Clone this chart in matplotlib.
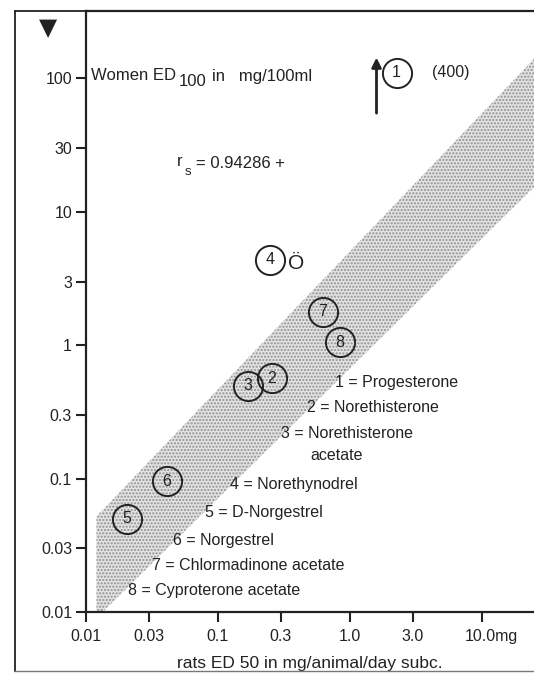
import numpy as np
import matplotlib.pyplot as plt
from matplotlib.lines import Line2D
from matplotlib.transforms import offset_copy, ScaledTranslation

plt.rcParams['font.family'] = ['Liberation Sans', 'DejaVu Sans']
plt.rcParams['hatch.linewidth'] = 1.0

W, H = 534, 676
INK = '#222222'

# data
labels = ['1', '2', '3', '4', '5', '6', '7', '8']
rat_ed50 = [2.27, 0.258, 0.170, 0.248, 0.0205, 0.0408, 0.627, 0.843]
women_ed100 = [400, 0.564, 0.495, 4.38, 0.0498, 0.0957, 1.78, 1.05]
names = ['Progesterone', 'Norethisterone', 'Norethisterone', 'Norethynodrel',
         'D-Norgestrel', 'Norgestrel', 'Chlormadinone acetate',
         'Cyproterone acetate']

band_x = [0.012, 25]
band_low = [0.009, 15.3]
band_high = [0.052, 140]

xticks = [0.01, 0.03, 0.1, 0.3, 1, 3, 10]
xlabels = ['0.01', '0.03', '0.1', '0.3', '1.0', '3.0', '10.0mg']
yticks = [0.01, 0.03, 0.1, 0.3, 1, 3, 10, 30, 100]
ylabels = ['0.01', '0.03', '0.1', '0.3', '1', '3', '10', '30', '100']

y_cap = 110  # off-scale values shown at the top with an arrow

# legend text layout (left px, centre px from top)
legend_pos = [(335, 382), (307, 407), (281, 433), (230, 485),
              (205, 513), (173, 540), (152, 565), (128, 590)]


def fx(px):
    return px / W


def fy(py):
    return 1 - py / H


fig = plt.figure(figsize=(W / 100, H / 100), dpi=100)
ax = fig.add_axes([fx(86), fy(612), fx(534) - fx(86), fy(11) - fy(612)])
ax.set_xscale('log')
ax.set_yscale('log')
ax.set_xlim(0.01, 25)
ax.set_ylim(0.01, 320)

ax.fill_between(band_x, band_low, band_high, facecolor='#e2e2e2',
                edgecolor='#8f8f8f', hatch='.....', linewidth=0, zorder=1)

plot_y = np.minimum(women_ed100, y_cap)
ax.plot(rat_ed50, plot_y, 'o', ms=21, mfc='none', mec=INK, mew=1.4,
        zorder=3)
for lab, x, y in zip(labels, rat_ed50, plot_y):
    ax.text(x, y, lab, ha='center', va='center', fontsize=11.5, color=INK,
            zorder=4)

# arrow for the off-scale point
i = 0
tip = offset_copy(ax.transData, fig=fig, x=-14.5, y=13, units='points')
tail = offset_copy(ax.transData, fig=fig, x=-14.5, y=-31, units='points')
ax.annotate('', xy=(rat_ed50[i], plot_y[i]), xycoords=tip,
            xytext=(rat_ed50[i], plot_y[i]), textcoords=tail,
            arrowprops=dict(arrowstyle='-|>', lw=2, color=INK,
                            mutation_scale=14))
ax.annotate('(%d)' % women_ed100[i], xy=(rat_ed50[i], plot_y[i]),
            xytext=(39, 0), textcoords='offset points', ha='center',
            va='center', fontsize=11.5, color=INK)
ax.annotate('Ö', xy=(rat_ed50[3], plot_y[3]), xytext=(19, -3),
            textcoords='offset points', ha='center', va='center',
            fontsize=15, color=INK)

ax.set_xticks(xticks)
ax.set_xticklabels(xlabels)
ax.set_yticks(yticks)
ax.set_yticklabels(ylabels)
ax.minorticks_off()
ax.tick_params(axis='both', direction='out', length=7, width=1.5,
               color=INK, labelcolor=INK, labelsize=11.5)
ax.tick_params(axis='x', pad=5)
ax.tick_params(axis='y', pad=3)
last = ax.get_xticklabels()[-1]
last.set_horizontalalignment('left')
last.set_transform(last.get_transform() +
                   ScaledTranslation(-0.17, 0, fig.dpi_scale_trans))

for s in ['left', 'bottom', 'top']:
    ax.spines[s].set_linewidth(1.6)
    ax.spines[s].set_color(INK)
ax.spines['right'].set_visible(False)

ax.set_xlabel('rats ED 50 in mg/animal/day subc.', fontsize=12.5,
              color=INK, labelpad=9)

# outer frame
fig.add_artist(Line2D([fx(15), fx(15)], [fy(11), fy(671)], color=INK,
                      lw=1.3))
fig.add_artist(Line2D([fx(15), fx(534)], [fy(11), fy(11)], color=INK,
                      lw=1.3))
fig.add_artist(Line2D([fx(15), fx(534)], [fy(671), fy(671)], color='#777777',
                      lw=1.0))
fig.text(fx(48), fy(28), '▼', ha='center', va='center', fontsize=17,
         color=INK, family='DejaVu Sans')

# titles inside the plot
fig.text(fx(91), fy(76), 'Women ED', va='center', fontsize=12, color=INK)
fig.text(fx(179), fy(81), '100', va='center', fontsize=12, color=INK)
fig.text(fx(212), fy(76), 'in   mg/100ml', va='center', fontsize=12,
         color=INK)
fig.text(fx(177), fy(162), 'r', va='center', fontsize=12, color=INK)
fig.text(fx(185), fy(172), 's', va='center', fontsize=9.5, color=INK)
fig.text(fx(196), fy(164), '= 0.94286 +', va='center', fontsize=12,
         color=INK)

for lab, name, (px, py) in zip(labels, names, legend_pos):
    fig.text(fx(px), fy(py), '%s = %s' % (lab, name), va='center',
             fontsize=11.5, color=INK)
fig.text(fx(310), fy(455), 'acetate', va='center', fontsize=11.5, color=INK)

fig.savefig('out.png', dpi=100, facecolor='white')
